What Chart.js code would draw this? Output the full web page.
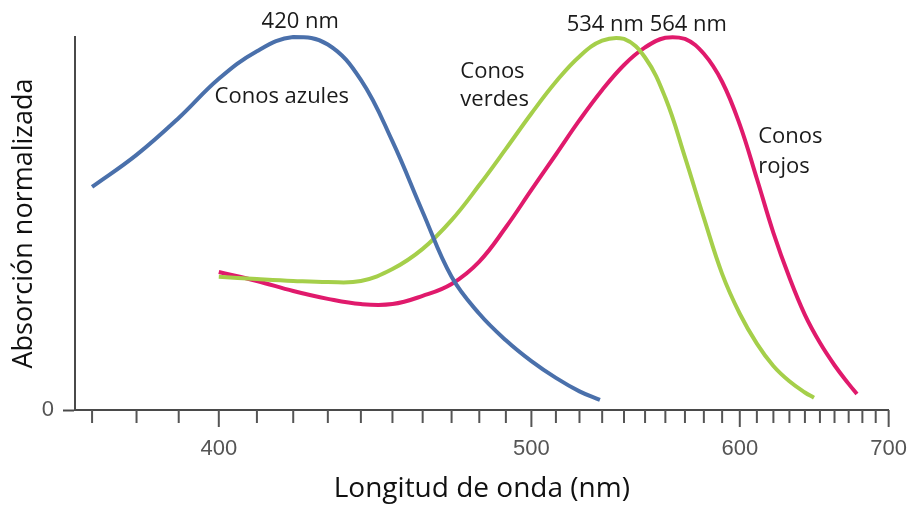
<!DOCTYPE html>
<html>
<head>
<meta charset="utf-8">
<script src="https://cdn.jsdelivr.net/npm/chart.js@4"></script>
<style>
  html, body { margin: 0; padding: 0; background: #fff; }
  #wrap { width: 916px; height: 506px; }
</style>
</head>
<body>
<div id="wrap"><canvas id="chart"></canvas></div>
<script>
// Datos (longitud de onda en nm, absorción normalizada)
const blueNm = [370, 380, 390, 400, 410, 420, 430, 440, 450, 460, 470, 480, 490, 500, 510, 520, 529];
const blueVal = [0.598, 0.684, 0.783, 0.888, 0.962, 1.0, 0.98, 0.885, 0.72, 0.531, 0.357, 0.258, 0.187, 0.131, 0.086, 0.05, 0.027];

const greenNm = [400, 410, 420, 430, 440, 450, 460, 470, 480, 490, 500, 510, 520, 530, 540, 550, 560, 570, 580, 590, 600, 610, 620, 630, 640, 646];
const greenVal = [0.357, 0.351, 0.346, 0.343, 0.346, 0.378, 0.432, 0.509, 0.603, 0.70, 0.795, 0.88, 0.948, 0.99, 0.995, 0.945, 0.837, 0.678, 0.515, 0.365, 0.258, 0.178, 0.118, 0.077, 0.047, 0.033];

const redNm = [400, 410, 420, 430, 440, 450, 460, 470, 480, 490, 500, 510, 520, 530, 540, 550, 560, 570, 580, 590, 600, 610, 620, 630, 640, 650, 660, 670, 676];
const redVal = [0.37, 0.346, 0.319, 0.298, 0.284, 0.284, 0.306, 0.338, 0.398, 0.49, 0.59, 0.685, 0.777, 0.858, 0.925, 0.972, 0.998, 0.995, 0.955, 0.88, 0.765, 0.62, 0.475, 0.355, 0.255, 0.18, 0.12, 0.07, 0.043];

// Marcas del eje x (cada 10 nm) y etiquetas cada 100 nm
const tickNm = [];
for (let nm = 370; nm <= 700; nm += 10) tickNm.push(nm);
const xMinNm = 366.3;
const xMaxNm = 700;

// Textos sobre el gráfico
const notes = [
    { text: '420 nm', nm: 422, y: 1.04, align: 'center' },
    { text: 'Conos azules', nm: 416.8, y: 0.839, align: 'center' },
    { text: 'Conos', nm: 473.1, y: 0.906, align: 'left' },
    { text: 'verdes', nm: 473.1, y: 0.831, align: 'left' },
    { text: '534 nm 564 nm', nm: 514.5, y: 1.032, align: 'left' },
    { text: 'Conos', nm: 610.8, y: 0.732, align: 'left' },
    { text: 'rojos', nm: 610.8, y: 0.651, align: 'left' }
];

// El eje es lineal en 1/λ
function toWave(nm) {
    return 1e7 / nm;
}

function makePoints(nms, vals) {
    return nms.map((nm, i) => ({ x: toWave(nm), y: vals[i] }));
}

const AXIS_COLOR = '#4a4a4a';

const tickPlugin = {
    id: 'tickMarks',
    afterDraw(chart) {
        const ctx = chart.ctx;
        const xs = chart.scales.x;
        ctx.save();
        ctx.strokeStyle = '#555';
        ctx.lineWidth = 2;
        tickNm.forEach(nm => {
            const px = xs.getPixelForValue(toWave(nm));
            const len = nm % 100 === 0 ? 17 : 13;
            ctx.beginPath();
            ctx.moveTo(px, xs.top);
            ctx.lineTo(px, xs.top + len);
            ctx.stroke();
        });
        ctx.restore();
    }
};

const notesPlugin = {
    id: 'notes',
    afterDraw(chart) {
        const ctx = chart.ctx;
        const xs = chart.scales.x;
        const ys = chart.scales.y;
        ctx.save();
        ctx.fillStyle = '#1a1a1a';
        ctx.font = '22px "Open Sans"';
        ctx.textBaseline = 'middle';
        notes.forEach(n => {
            ctx.textAlign = n.align;
            ctx.fillText(n.text, xs.getPixelForValue(toWave(n.nm)), ys.getPixelForValue(n.y));
        });
        ctx.restore();
    }
};

const ctx = document.getElementById('chart').getContext('2d');
const chart = new Chart(ctx, {
    type: 'line',
    data: {
        datasets: [
            { label: 'Conos azules', data: makePoints(blueNm, blueVal), borderColor: '#4a70ab' },
            { label: 'Conos verdes', data: makePoints(greenNm, greenVal), borderColor: '#a5cf4a' },
            { label: 'Conos rojos', data: makePoints(redNm, redVal), borderColor: '#e01a6c' }
        ]
    },
    options: {
        responsive: true,
        maintainAspectRatio: false,
        animation: false,
        layout: { padding: { left: 6, right: 22, top: 37, bottom: 0 } },
        elements: {
            line: { borderWidth: 4, tension: 0.4, fill: false, capBezierPoints: true },
            point: { radius: 0 }
        },
        datasets: { line: { clip: false } },
        plugins: {
            legend: { display: false },
            tooltip: { enabled: false }
        },
        scales: {
            x: {
                type: 'linear',
                reverse: true,
                min: toWave(xMaxNm),
                max: toWave(xMinNm),
                afterBuildTicks: scale => {
                    scale.ticks = tickNm.map(nm => ({ value: toWave(nm) }));
                },
                afterFit: scale => { scale.height = 96; },
                grid: {
                    drawOnChartArea: false,
                    drawTicks: true,
                    tickLength: 17,
                    tickColor: 'rgba(0,0,0,0)'
                },
                border: { display: true, color: AXIS_COLOR, width: 2 },
                ticks: {
                    autoSkip: false,
                    maxRotation: 0,
                    padding: 9,
                    color: '#555',
                    font: { family: '"Liberation Sans", Arial', size: 22 },
                    callback: value => {
                        const nm = Math.round(1e7 / value);
                        return nm % 100 === 0 ? String(nm) : '';
                    }
                },
                title: {
                    display: true,
                    text: 'Longitud de onda (nm)',
                    color: '#111',
                    font: { family: '"Open Sans"', size: 28 },
                    padding: { top: 0, bottom: 0 }
                }
            },
            y: {
                min: 0,
                max: 1,
                afterBuildTicks: scale => { scale.ticks = [{ value: 0 }]; },
                afterFit: scale => { scale.width = 69; },
                grid: {
                    drawOnChartArea: false,
                    drawTicks: true,
                    tickLength: 12,
                    tickColor: AXIS_COLOR,
                    tickWidth: 2
                },
                border: { display: true, color: AXIS_COLOR, width: 2 },
                ticks: {
                    padding: 9,
                    color: '#555',
                    font: { family: '"Liberation Sans", Arial', size: 22 }
                },
                title: {
                    display: true,
                    text: 'Absorción normalizada',
                    color: '#111',
                    font: { family: '"Open Sans"', size: 27 },
                    padding: { top: 2, bottom: 0 }
                }
            }
        }
    },
    plugins: [tickPlugin, notesPlugin]
});
</script>
</body>
</html>
